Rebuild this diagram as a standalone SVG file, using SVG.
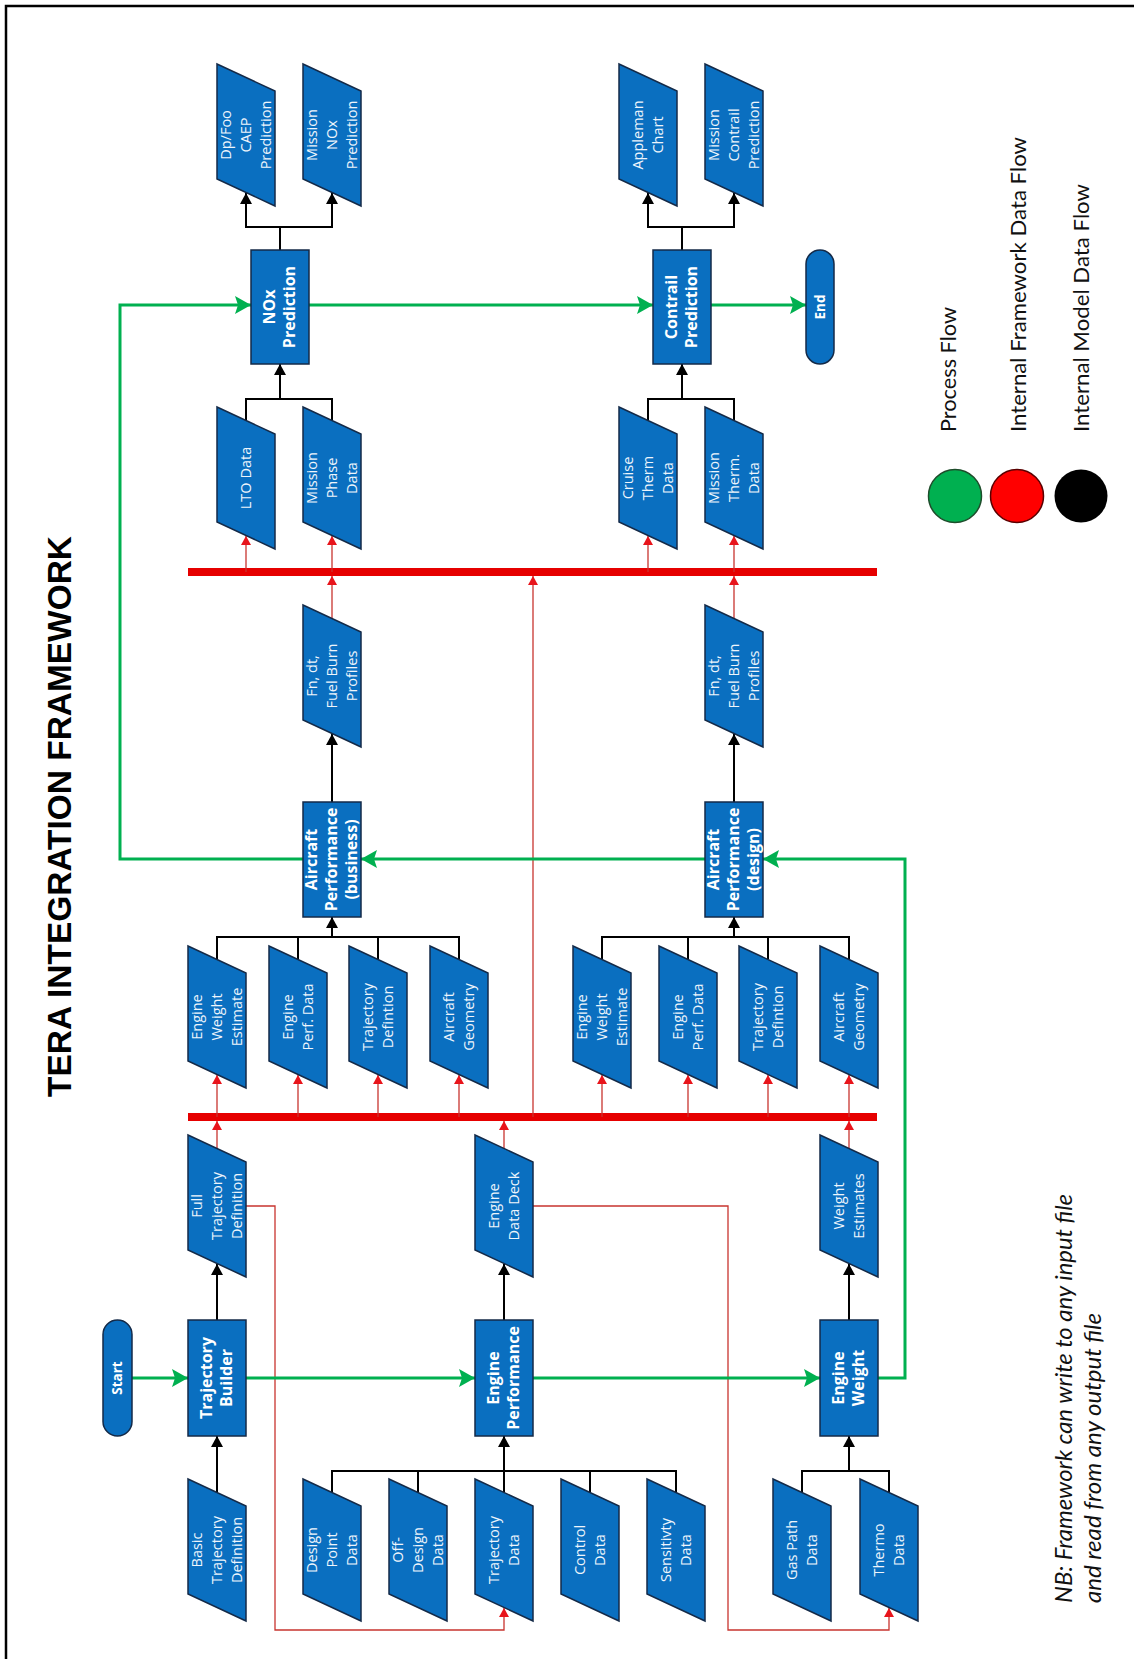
<svg xmlns="http://www.w3.org/2000/svg" width="1134" height="1659" viewBox="0 0 1134 1659">
  <defs>
    <style>
      .d { fill: #0A6FC0; stroke: #142A48; stroke-width: 1.5; }
      .t { font-family: "Open Sans", "Noto Sans", sans-serif; font-size: 14.5px; fill: #EEF5FC; text-anchor: middle; }
      .tb { font-family: "Open Sans", "Noto Sans", sans-serif; font-size: 16px; font-weight: bold; fill: #FFFFFF; text-anchor: middle; }
      .ts { font-family: "Open Sans", "Noto Sans", sans-serif; font-size: 13.5px; font-weight: bold; fill: #FFFFFF; text-anchor: middle; }
      .k { fill: none; stroke: #000; stroke-width: 2; }
      .r { fill: none; stroke: #C8342F; stroke-width: 1.3; }
      .bus { fill: none; stroke: #E60000; stroke-width: 8; }
      .g { fill: none; stroke: #00B050; stroke-width: 3; }
      .lg { font-family: "Lato", "Open Sans", sans-serif; font-size: 22px; fill: #111; }
      .nb { font-family: "Lato", "Open Sans", sans-serif; font-size: 24px; font-style: italic; fill: #111; }
      .title { font-family: "Liberation Sans", Arial, sans-serif; font-size: 34px; font-weight: bold; fill: #000; }
    </style>
    <marker id="ak" viewBox="0 0 11 12" refX="11" refY="6" markerWidth="11" markerHeight="12" markerUnits="userSpaceOnUse" orient="auto-start-reverse">
      <path d="M0,0L11,6L0,12z" fill="#000"/>
    </marker>
    <marker id="ar" viewBox="0 0 9 10" refX="9" refY="5" markerWidth="9" markerHeight="10" markerUnits="userSpaceOnUse" orient="auto">
      <path d="M0,0L9,5L0,10z" fill="#E8141B"/>
    </marker>
    <marker id="ag" viewBox="0 0 16 18" refX="16" refY="9" markerWidth="16" markerHeight="18" markerUnits="userSpaceOnUse" orient="auto">
      <path d="M0,0L16,9L0,18L3,9z" fill="#00B050"/>
    </marker>
  </defs>

  <rect width="1134" height="1659" fill="#fff"/>
  <!-- frame -->
  <path d="M6,1659V6H1134" fill="none" stroke="#000" stroke-width="2.5"/>

  <!-- title -->
  <text class="title" transform="translate(71,1097) rotate(-90)" textLength="561" lengthAdjust="spacingAndGlyphs">TERA INTEGRATION FRAMEWORK</text>

  <!-- connectors -->
  <g id="connectors">
    <!-- data buses -->
    <path class="bus" d="M188,572H877"/>
    <path class="bus" d="M188,1117H877"/>

    <!-- framework data flow (red) -->
    <g>
      <path class="r" marker-end="url(#ar)" d="M246,572V536"/>
      <path class="r" marker-end="url(#ar)" d="M332,572V536"/>
      <path class="r" marker-end="url(#ar)" d="M648,572V536"/>
      <path class="r" marker-end="url(#ar)" d="M734,572V536"/>
      <path class="r" marker-end="url(#ar)" d="M332,619V576"/>
      <path class="r" marker-end="url(#ar)" d="M734,619V576"/>
      <path class="r" marker-end="url(#ar)" d="M533,1117V576"/>
      <path class="r" marker-end="url(#ar)" d="M217,1117V1075"/>
      <path class="r" marker-end="url(#ar)" d="M298,1117V1075"/>
      <path class="r" marker-end="url(#ar)" d="M378,1117V1075"/>
      <path class="r" marker-end="url(#ar)" d="M459,1117V1075"/>
      <path class="r" marker-end="url(#ar)" d="M602,1117V1075"/>
      <path class="r" marker-end="url(#ar)" d="M688,1117V1075"/>
      <path class="r" marker-end="url(#ar)" d="M768,1117V1075"/>
      <path class="r" marker-end="url(#ar)" d="M849,1117V1075"/>
      <path class="r" marker-end="url(#ar)" d="M217,1149V1121"/>
      <path class="r" marker-end="url(#ar)" d="M504,1149V1121"/>
      <path class="r" marker-end="url(#ar)" d="M849,1149V1121"/>
      <path class="r" marker-end="url(#ar)" d="M246,1206H275V1630H504V1608"/>
      <path class="r" marker-end="url(#ar)" d="M533,1206H728V1630H889V1608"/>
    </g>

    <!-- model data flow (black) -->
    <g>
      <path class="k" marker-start="url(#ak)" marker-end="url(#ak)" d="M246,193V227H332V193"/>
      <path class="k" d="M280,250V227"/>
      <path class="k" marker-start="url(#ak)" marker-end="url(#ak)" d="M648,193V227H734V193"/>
      <path class="k" d="M682,250V227"/>
      <path class="k" d="M246,420V399H332V420"/>
      <path class="k" marker-end="url(#ak)" d="M280,399V364"/>
      <path class="k" d="M648,420V399H734V420"/>
      <path class="k" marker-end="url(#ak)" d="M682,399V364"/>
      <path class="k" marker-end="url(#ak)" d="M332,802V734"/>
      <path class="k" marker-end="url(#ak)" d="M734,802V734"/>
      <path class="k" d="M217,959V937H459V959M298,937V959M378,937V959"/>
      <path class="k" marker-end="url(#ak)" d="M332,937V917"/>
      <path class="k" d="M602,959V937H849V959M688,937V959M768,937V959"/>
      <path class="k" marker-end="url(#ak)" d="M734,937V917"/>
      <path class="k" marker-end="url(#ak)" d="M217,1320V1264"/>
      <path class="k" marker-end="url(#ak)" d="M504,1320V1264"/>
      <path class="k" marker-end="url(#ak)" d="M849,1320V1264"/>
      <path class="k" marker-end="url(#ak)" d="M217,1492V1436"/>
      <path class="k" d="M332,1492V1471H676V1492M418,1471V1492M590,1471V1492"/>
      <path class="k" marker-end="url(#ak)" d="M504,1492V1436"/>
      <path class="k" d="M802,1492V1471H889V1492"/>
      <path class="k" marker-end="url(#ak)" d="M849,1471V1436"/>
    </g>

    <!-- process flow (green) -->
    <g>
      <path class="g" marker-end="url(#ag)" d="M132,1378H188"/>
      <path class="g" marker-end="url(#ag)" d="M246,1378H475"/>
      <path class="g" marker-end="url(#ag)" d="M533,1378H820"/>
      <path class="g" marker-end="url(#ag)" d="M878,1378H905V859H763"/>
      <path class="g" marker-end="url(#ag)" d="M705,859H361"/>
      <path class="g" marker-end="url(#ag)" d="M303,859H120V305H251"/>
      <path class="g" marker-end="url(#ag)" d="M309,305H653"/>
      <path class="g" marker-end="url(#ag)" d="M711,305H806"/>
    </g>
  </g>

  <!-- outputs of the emission models -->
  <g id="n-dpfoo">
    <polygon class="d" points="217,64 275,91 275,206 217,179"/>
    <text class="t" transform="translate(246,135) rotate(-90)"><tspan x="0" y="-15">Dp/Foo</tspan><tspan x="0" y="5">CAEP</tspan><tspan x="0" y="25">Prediction</tspan></text>
  </g>
  <g id="n-missionnox">
    <polygon class="d" points="303,64 361,91 361,206 303,179"/>
    <text class="t" transform="translate(332,135) rotate(-90)"><tspan x="0" y="-15">Mission</tspan><tspan x="0" y="5">NOx</tspan><tspan x="0" y="25">Prediction</tspan></text>
  </g>
  <g id="n-appleman">
    <polygon class="d" points="619,64 677,91 677,206 619,179"/>
    <text class="t" transform="translate(648,135) rotate(-90)"><tspan x="0" y="-5">Appleman</tspan><tspan x="0" y="15">Chart</tspan></text>
  </g>
  <g id="n-missioncontrail">
    <polygon class="d" points="705,64 763,91 763,206 705,179"/>
    <text class="t" transform="translate(734,135) rotate(-90)"><tspan x="0" y="-15">Mission</tspan><tspan x="0" y="5">Contrail</tspan><tspan x="0" y="25">Prediction</tspan></text>
  </g>

  <!-- emission model blocks -->
  <g id="n-noxpred">
    <rect class="d" x="251" y="250" width="58" height="114"/>
    <text class="tb" transform="translate(280,307) rotate(-90)"><tspan x="0" y="-5">NOx</tspan><tspan x="0" y="15">Prediction</tspan></text>
  </g>
  <g id="n-contrailpred">
    <rect class="d" x="653" y="250" width="58" height="114"/>
    <text class="tb" transform="translate(682,307) rotate(-90)"><tspan x="0" y="-5">Contrail</tspan><tspan x="0" y="15">Prediction</tspan></text>
  </g>
  <g id="n-end">
    <rect class="d" x="806" y="250" width="28" height="114" rx="14" ry="14"/>
    <text class="ts" transform="translate(820,307) rotate(-90)" y="4.5">End</text>
  </g>

  <!-- emission model inputs -->
  <g id="n-lto">
    <polygon class="d" points="217,407 275,434 275,549 217,522"/>
    <text class="t" transform="translate(246,478) rotate(-90)" y="5">LTO Data</text>
  </g>
  <g id="n-missionphase">
    <polygon class="d" points="303,407 361,434 361,549 303,522"/>
    <text class="t" transform="translate(332,478) rotate(-90)"><tspan x="0" y="-15">Mission</tspan><tspan x="0" y="5">Phase</tspan><tspan x="0" y="25">Data</tspan></text>
  </g>
  <g id="n-cruisetherm">
    <polygon class="d" points="619,407 677,434 677,549 619,522"/>
    <text class="t" transform="translate(648,478) rotate(-90)"><tspan x="0" y="-15">Cruise</tspan><tspan x="0" y="5">Therm</tspan><tspan x="0" y="25">Data</tspan></text>
  </g>
  <g id="n-missiontherm">
    <polygon class="d" points="705,407 763,434 763,549 705,522"/>
    <text class="t" transform="translate(734,478) rotate(-90)"><tspan x="0" y="-15">Mission</tspan><tspan x="0" y="5">Therm.</tspan><tspan x="0" y="25">Data</tspan></text>
  </g>

  <!-- aircraft performance outputs -->
  <g id="n-fn-business">
    <polygon class="d" points="303,605 361,632 361,747 303,720"/>
    <text class="t" transform="translate(332,676) rotate(-90)"><tspan x="0" y="-15">Fn, dt,</tspan><tspan x="0" y="5">Fuel Burn</tspan><tspan x="0" y="25">Profiles</tspan></text>
  </g>
  <g id="n-fn-design">
    <polygon class="d" points="705,605 763,632 763,747 705,720"/>
    <text class="t" transform="translate(734,676) rotate(-90)"><tspan x="0" y="-15">Fn, dt,</tspan><tspan x="0" y="5">Fuel Burn</tspan><tspan x="0" y="25">Profiles</tspan></text>
  </g>

  <!-- aircraft performance blocks -->
  <g id="n-ap-business">
    <rect class="d" x="303" y="802" width="58" height="115"/>
    <text class="tb" transform="translate(332,859.5) rotate(-90)"><tspan x="0" y="-15">Aircraft</tspan><tspan x="0" y="5">Performance</tspan><tspan x="0" y="25">(business)</tspan></text>
  </g>
  <g id="n-ap-design">
    <rect class="d" x="705" y="802" width="58" height="115"/>
    <text class="tb" transform="translate(734,859.5) rotate(-90)"><tspan x="0" y="-15">Aircraft</tspan><tspan x="0" y="5">Performance</tspan><tspan x="0" y="25">(design)</tspan></text>
  </g>

  <!-- aircraft performance inputs (business) -->
  <g id="n-ewe-b">
    <polygon class="d" points="188,946 246,973 246,1088 188,1061"/>
    <text class="t" transform="translate(217,1017) rotate(-90)"><tspan x="0" y="-15">Engine</tspan><tspan x="0" y="5">Weight</tspan><tspan x="0" y="25">Estimate</tspan></text>
  </g>
  <g id="n-epd-b">
    <polygon class="d" points="269,946 327,973 327,1088 269,1061"/>
    <text class="t" transform="translate(298,1017) rotate(-90)"><tspan x="0" y="-5">Engine</tspan><tspan x="0" y="15">Perf. Data</tspan></text>
  </g>
  <g id="n-td-b">
    <polygon class="d" points="349,946 407,973 407,1088 349,1061"/>
    <text class="t" transform="translate(378,1017) rotate(-90)"><tspan x="0" y="-5">Trajectory</tspan><tspan x="0" y="15">Defintion</tspan></text>
  </g>
  <g id="n-ag-b">
    <polygon class="d" points="430,946 488,973 488,1088 430,1061"/>
    <text class="t" transform="translate(459,1017) rotate(-90)"><tspan x="0" y="-5">Aircraft</tspan><tspan x="0" y="15">Geometry</tspan></text>
  </g>

  <!-- aircraft performance inputs (design) -->
  <g id="n-ewe-d">
    <polygon class="d" points="573,946 631,973 631,1088 573,1061"/>
    <text class="t" transform="translate(602,1017) rotate(-90)"><tspan x="0" y="-15">Engine</tspan><tspan x="0" y="5">Weight</tspan><tspan x="0" y="25">Estimate</tspan></text>
  </g>
  <g id="n-epd-d">
    <polygon class="d" points="659,946 717,973 717,1088 659,1061"/>
    <text class="t" transform="translate(688,1017) rotate(-90)"><tspan x="0" y="-5">Engine</tspan><tspan x="0" y="15">Perf. Data</tspan></text>
  </g>
  <g id="n-td-d">
    <polygon class="d" points="739,946 797,973 797,1088 739,1061"/>
    <text class="t" transform="translate(768,1017) rotate(-90)"><tspan x="0" y="-5">Trajectory</tspan><tspan x="0" y="15">Defintion</tspan></text>
  </g>
  <g id="n-ag-d">
    <polygon class="d" points="820,946 878,973 878,1088 820,1061"/>
    <text class="t" transform="translate(849,1017) rotate(-90)"><tspan x="0" y="-5">Aircraft</tspan><tspan x="0" y="15">Geometry</tspan></text>
  </g>

  <!-- engine and trajectory model outputs -->
  <g id="n-fulltraj">
    <polygon class="d" points="188,1135 246,1162 246,1277 188,1250"/>
    <text class="t" transform="translate(217,1206) rotate(-90)"><tspan x="0" y="-15">Full</tspan><tspan x="0" y="5">Trajectory</tspan><tspan x="0" y="25">Definition</tspan></text>
  </g>
  <g id="n-datadeck">
    <polygon class="d" points="475,1135 533,1162 533,1277 475,1250"/>
    <text class="t" transform="translate(504,1206) rotate(-90)"><tspan x="0" y="-5">Engine</tspan><tspan x="0" y="15">Data Deck</tspan></text>
  </g>
  <g id="n-weightest">
    <polygon class="d" points="820,1135 878,1162 878,1277 820,1250"/>
    <text class="t" transform="translate(849,1206) rotate(-90)"><tspan x="0" y="-5">Weight</tspan><tspan x="0" y="15">Estimates</tspan></text>
  </g>

  <!-- engine and trajectory model blocks -->
  <g id="n-start">
    <rect class="d" x="103" y="1320" width="29" height="116" rx="14.5" ry="14.5"/>
    <text class="ts" transform="translate(117.5,1378) rotate(-90)" y="4.5">Start</text>
  </g>
  <g id="n-trajbuilder">
    <rect class="d" x="188" y="1320" width="58" height="116"/>
    <text class="tb" transform="translate(217,1378) rotate(-90)"><tspan x="0" y="-5">Trajectory</tspan><tspan x="0" y="15">Builder</tspan></text>
  </g>
  <g id="n-engperf">
    <rect class="d" x="475" y="1320" width="58" height="116"/>
    <text class="tb" transform="translate(504,1378) rotate(-90)"><tspan x="0" y="-5">Engine</tspan><tspan x="0" y="15">Performance</tspan></text>
  </g>
  <g id="n-engweight">
    <rect class="d" x="820" y="1320" width="58" height="116"/>
    <text class="tb" transform="translate(849,1378) rotate(-90)"><tspan x="0" y="-5">Engine</tspan><tspan x="0" y="15">Weight</tspan></text>
  </g>

  <!-- engine and trajectory model inputs -->
  <g id="n-basictraj">
    <polygon class="d" points="188,1479 246,1506 246,1621 188,1594"/>
    <text class="t" transform="translate(217,1550) rotate(-90)"><tspan x="0" y="-15">Basic</tspan><tspan x="0" y="5">Trajectory</tspan><tspan x="0" y="25">Definition</tspan></text>
  </g>
  <g id="n-designpoint">
    <polygon class="d" points="303,1479 361,1506 361,1621 303,1594"/>
    <text class="t" transform="translate(332,1550) rotate(-90)"><tspan x="0" y="-15">Design</tspan><tspan x="0" y="5">Point</tspan><tspan x="0" y="25">Data</tspan></text>
  </g>
  <g id="n-offdesign">
    <polygon class="d" points="389,1479 447,1506 447,1621 389,1594"/>
    <text class="t" transform="translate(418,1550) rotate(-90)"><tspan x="0" y="-15">Off-</tspan><tspan x="0" y="5">Design</tspan><tspan x="0" y="25">Data</tspan></text>
  </g>
  <g id="n-trajdata">
    <polygon class="d" points="475,1479 533,1506 533,1621 475,1594"/>
    <text class="t" transform="translate(504,1550) rotate(-90)"><tspan x="0" y="-5">Trajectory</tspan><tspan x="0" y="15">Data</tspan></text>
  </g>
  <g id="n-control">
    <polygon class="d" points="561,1479 619,1506 619,1621 561,1594"/>
    <text class="t" transform="translate(590,1550) rotate(-90)"><tspan x="0" y="-5">Control</tspan><tspan x="0" y="15">Data</tspan></text>
  </g>
  <g id="n-sensitivity">
    <polygon class="d" points="647,1479 705,1506 705,1621 647,1594"/>
    <text class="t" transform="translate(676,1550) rotate(-90)"><tspan x="0" y="-5">Sensitivty</tspan><tspan x="0" y="15">Data</tspan></text>
  </g>
  <g id="n-gaspath">
    <polygon class="d" points="773,1479 831,1506 831,1621 773,1594"/>
    <text class="t" transform="translate(802,1550) rotate(-90)"><tspan x="0" y="-5">Gas Path</tspan><tspan x="0" y="15">Data</tspan></text>
  </g>
  <g id="n-thermo">
    <polygon class="d" points="860,1479 918,1506 918,1621 860,1594"/>
    <text class="t" transform="translate(889,1550) rotate(-90)"><tspan x="0" y="-5">Thermo</tspan><tspan x="0" y="15">Data</tspan></text>
  </g>

  <!-- legend -->
  <g id="legend">
    <circle cx="955" cy="496" r="26.5" fill="#00B050" stroke="#1E4D2B" stroke-width="1.5"/>
    <circle cx="1017" cy="496" r="26.5" fill="#FF0000" stroke="#5A0000" stroke-width="1.5"/>
    <circle cx="1081" cy="496" r="26.5" fill="#000000"/>
    <text class="lg" transform="translate(956,432) rotate(-90)" textLength="125" lengthAdjust="spacingAndGlyphs">Process Flow</text>
    <text class="lg" transform="translate(1026,432) rotate(-90)" textLength="295" lengthAdjust="spacingAndGlyphs">Internal Framework Data Flow</text>
    <text class="lg" transform="translate(1089,432) rotate(-90)" textLength="248" lengthAdjust="spacingAndGlyphs">Internal Model Data Flow</text>
  </g>

  <!-- note -->
  <g id="note">
    <text class="nb" transform="translate(1072,1603) rotate(-90)" textLength="409" lengthAdjust="spacingAndGlyphs">NB: Framework can write to any input file</text>
    <text class="nb" transform="translate(1101,1603) rotate(-90)" textLength="290" lengthAdjust="spacingAndGlyphs">and read from any output file</text>
  </g>
</svg>
